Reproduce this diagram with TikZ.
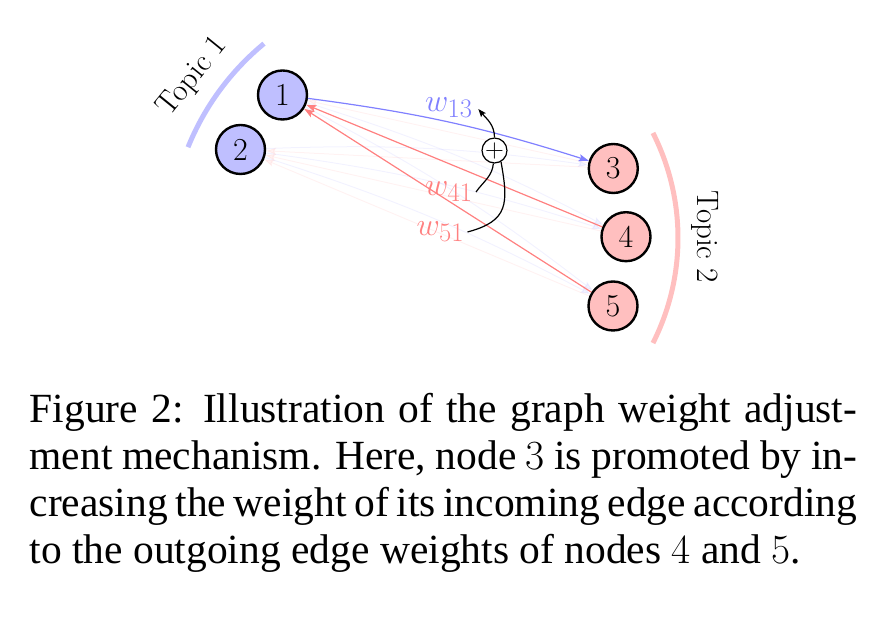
\RequirePackage{fix-cm}
\documentclass[tikz,border=0pt]{standalone}
\usepackage{fontspec}
\newfontfamily\capfont{Liberation Serif}
\usetikzlibrary{arrows.meta}
\newcommand\nodefnt{\fontsize{32}{38}\selectfont}
\newcommand\labfnt{\fontsize{24.88}{30}\selectfont}
\newcommand\topfnt{\fontsize{31}{37}\selectfont}
\newcommand\capfnt{\capfont\fontsize{41.5}{47.2}\selectfont}
\newcommand\wl[1]{\scalebox{1.29}{$w_{#1}$}}
\newcommand\cd[1]{{\normalfont #1}}
\tikzset{
  topicA/.style={circle, draw=black, line width=2.4pt, fill=blue!25, minimum size=49pt, inner sep=0pt, font=\nodefnt},
  topicB/.style={circle, draw=black, line width=2.4pt, fill=red!25, minimum size=49pt, inner sep=0pt, font=\nodefnt},
  tip/.style={-{Stealth[length=10pt,width=7pt,inset=2pt]}},
  hiblue/.style={tip, draw=blue!50, line width=1.2pt},
  hired/.style={tip, draw=red!50, line width=1.2pt},
  faintblue/.style={tip, draw=blue!50, line width=1pt, opacity=0.1},
  faintred/.style={tip, draw=red!50, line width=1pt, opacity=0.1},
  arcA/.style={draw=blue!25, line width=5pt},
  arcB/.style={draw=red!25, line width=5pt},
  wlab/.style={font=\labfnt, inner sep=3pt},
  plusnode/.style={circle, draw=black, line width=1.2pt, minimum size=24.4pt, inner sep=0pt, fill=white, font=\fontsize{24.88}{30}\selectfont},
  link/.style={draw=black, line width=1.2pt},
  capline/.style={anchor=base west, inner sep=0pt, font=\capfnt}
}
\begin{document}
\begin{tikzpicture}[x=1pt,y=1pt]
\useasboundingbox (0,0) rectangle (892,618);

% topic arcs
\draw[arcA] (430,373) ++(158:261) arc[start angle=158, end angle=129.5, radius=261];
\draw[arcB] (445,380) ++(26.8:233) arc[start angle=26.8, end angle=-26.8, radius=233];
\node[font=\topfnt, rotate=51] (t1) at (193,541) {Topic 1};
\node[font=\topfnt, rotate=-90] (t2) at (705,381) {Topic 2};

% nodes
\node[topicA] (n1) at (282.5,523) {1};
\node[topicA] (n2) at (240.5,468.5) {2};
\node[topicB] (n3) at (613.3,449.5) {3};
\node[topicB] (n4) at (626,381.3) {4};
\node[topicB] (n5) at (613,312) {5};

% faint edges
\draw[faintblue] (n1) to[bend left=5] (n4);
\draw[faintblue] (n1) to[bend left=5] (n5);
\draw[faintblue] (n2) to[bend left=5] (n3);
\draw[faintblue] (n2) to[bend left=5] (n4);
\draw[faintblue] (n2) to[bend left=5] (n5);
\draw[faintred] (n3) -- (n1);
\draw[faintred] (n3) -- (n2);
\draw[faintred] (n4) -- (n2);
\draw[faintred] (n5) -- (n2);

% highlighted edges
\draw[hiblue] (n1) to[bend left=5] (n3);
\draw[hired] (n4) -- (n1);
\draw[hired] (n5) -- (n1);

% labels
\node[wlab, text=blue!50] (w13) at (449,510) {\wl{13}};
\node[wlab, text=red!50] (w41) at (449,426) {\wl{41}};
\node[wlab, text=red!50] (w51) at (440.5,386) {\wl{51}};

% plus
\node[plusnode] (plus) at (494.5,467.5) {\scalebox{1.05}{$+$}};
\coordinate (up) at (478.3,509);
\draw[link] (w41.east) to[out=55, in=-95] (plus.-95);
\draw[link] (w51.east) to[out=15, in=-80, looseness=1.4] (plus.-60);
\draw[link, -{Stealth[length=8pt,width=6pt,inset=1.5pt]}] (plus.north) to[out=90, in=-50] (up);

% caption
\node[capline] (c1) at (29.5,195.7) {\makebox[827.5pt][s]{Figure 2: Illustration of the graph weight adjust-}};
\node[capline] (c2) at (29.5,148.7) {\makebox[827.5pt][s]{ment mechanism. Here, node \cd{3} is promoted by in-}};
\node[capline] (c3) at (29.5,101.3) {\makebox[827.5pt][s]{creasing the weight of its incoming edge according}};
\node[capline] (c4) at (29.5,54) {to the outgoing edge weights of nodes \cd{4} and \cd{5}.};
\end{tikzpicture}
\end{document}
